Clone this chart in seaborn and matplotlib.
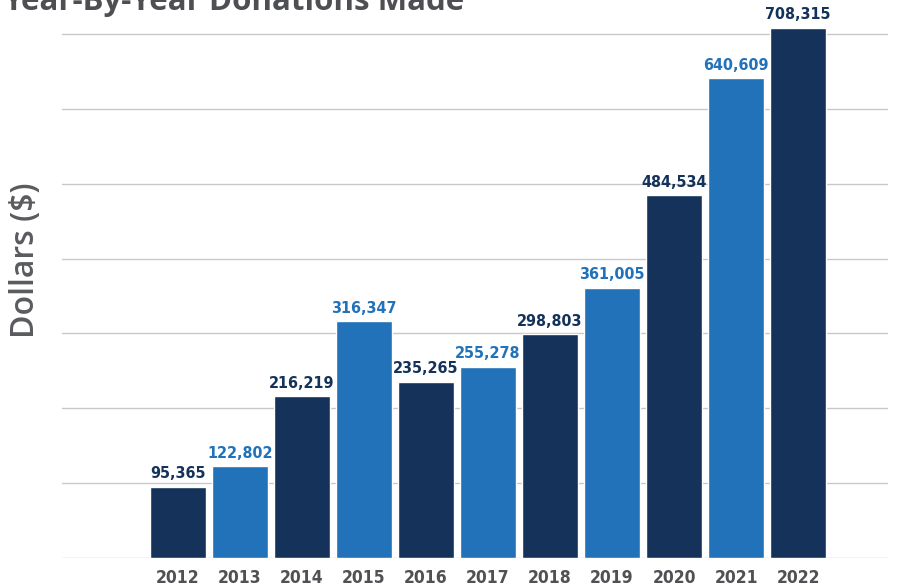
import matplotlib
matplotlib.use('Agg')
import matplotlib.pyplot as plt
import seaborn as sns
import pandas as pd

# Chart data
years = ['2012', '2013', '2014', '2015', '2016', '2017', '2018', '2019', '2020', '2021', '2022']
donations = [95365, 122802, 216219, 316347, 235265, 255278, 298803, 361005, 484534, 640609, 708315]
bar_colors = ['#14325a', '#2272b9'] * 5 + ['#14325a']

df = pd.DataFrame({'year': years, 'dollars': donations})

sns.set_theme(style='white')
plt.rcParams['font.family'] = ['DejaVu Sans']
plt.rcParams['font.stretch'] = 'condensed'

fig = plt.figure(figsize=(9.01, 5.88), dpi=100)
ax = fig.add_axes([62 / 901, 30 / 588, (888 - 62) / 901, 554 / 588])

sns.barplot(data=df, x='year', y='dollars', hue='year', palette=bar_colors,
            legend=False, width=0.9, saturation=1, ax=ax)

ax.set_ylim(0, 740000)
ax.set_xlim(-1.87, 11.45)
ax.set_yticks(range(0, 800000, 100000))
ax.yaxis.grid(True, color='#c8c8c8', linewidth=1)
ax.set_axisbelow(True)
ax.tick_params(axis='y', left=False, labelleft=False)
ax.tick_params(axis='x', bottom=False, length=0, pad=8)
for lab in ax.get_xticklabels():
    lab.set_fontweight('bold')
    lab.set_fontsize(12.5)
    lab.set_fontstretch('condensed')
    lab.set_color('#505154')
for s in ax.spines.values():
    s.set_visible(False)

# Value labels above the bars, coloured like the bar
for cont in ax.containers:
    texts = ax.bar_label(cont, labels=[f'{v:,.0f}' for v in cont.datavalues],
                         padding=4, fontsize=11.5, fontweight='bold', clip_on=False)
    fc = cont.patches[0].get_facecolor()
    for t in texts:
        t.set_color(fc)
        t.set_fontstretch('condensed')

ax.set_xlabel('')
ax.set_ylabel('Dollars ($)', fontsize=23, color='#5a5b5e', fontweight='semibold',
              family=['Open Sans', 'DejaVu Sans'])
ax.yaxis.set_label_coords(-20 / 826, (558 - 260) / 554)

fig.text(3 / 901, 1 - 10 / 588, 'Year-By-Year Donations Made', fontsize=22.5,
         fontweight='bold', color='#4d4f53', va='baseline', ha='left',
         family=['Open Sans', 'DejaVu Sans'])

fig.savefig('out.png', dpi=100)
